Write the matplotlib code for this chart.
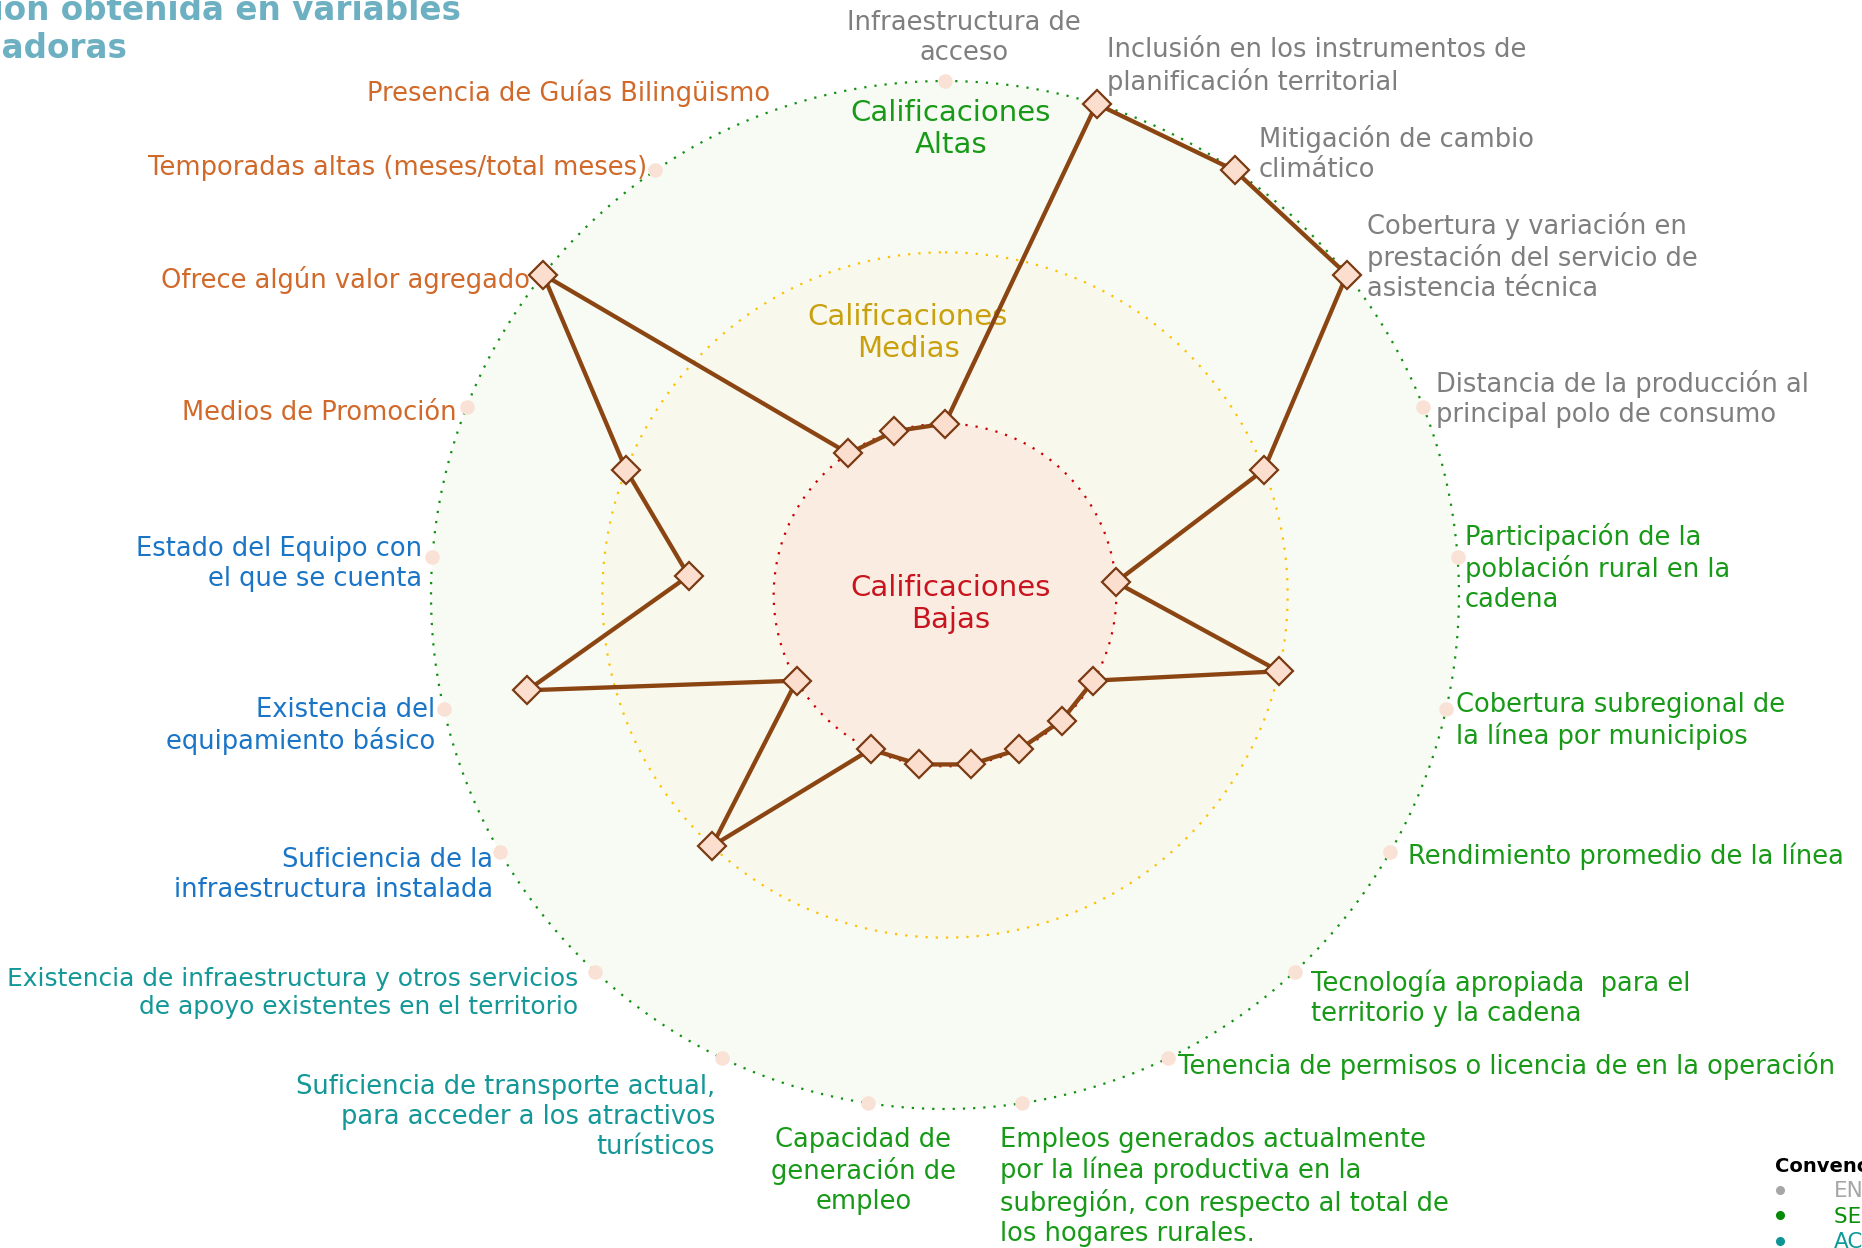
import numpy as np
import matplotlib
matplotlib.use("Agg")
import matplotlib.pyplot as plt
from matplotlib.lines import Line2D

plt.rcParams["font.family"] = ["DejaVu Sans"]

# ---------------- data ----------------
categories = [
    "Infraestructura de\nacceso",
    "Inclusión en los instrumentos de\nplanificación territorial",
    "Mitigación de cambio\nclimático",
    "Cobertura y variación en\nprestación del servicio de\nasistencia técnica",
    "Distancia de la producción al\nprincipal polo de consumo",
    "Participación de la\npoblación rural en la\ncadena",
    "Cobertura subregional de\nla línea por municipios",
    "Rendimiento promedio de la línea",
    "Tecnología apropiada  para el\nterritorio y la cadena",
    "Tenencia de permisos o licencia de en la operación",
    "Empleos generados actualmente\npor la línea productiva en la\nsubregión, con respecto al total de\nlos hogares rurales.",
    "Capacidad de\ngeneración de\nempleo",
    "Suficiencia de transporte actual,\npara acceder a los atractivos\nturísticos",
    "Existencia de infraestructura y otros servicios\nde apoyo existentes en el territorio",
    "Suficiencia de la\ninfraestructura instalada",
    "Existencia del\nequipamiento básico",
    "Estado del Equipo con\nel que se cuenta",
    "Medios de Promoción",
    "Ofrece algún valor agregado",
    "Temporadas altas (meses/total meses)",
    "Presencia de Guías Bilingüismo",
]
values = [1, 3, 3, 3, 2, 1, 2, 1, 1, 1, 1, 1, 1, 2, 1, 2.5, 1.5, 2, 3, 1, 1]
category_group = (["gray"] * 5 + ["green"] * 7 + ["teal"] * 2 +
                  ["blue"] * 3 + ["orange"] * 4)

zone_levels = [1, 2, 3]
zone_names = ["Calificaciones\nBajas", "Calificaciones\nMedias", "Calificaciones\nAltas"]

legend_title = "Convenciones"
legend_labels = ["ENTORNO", "SECTOR PRODUCTIVO", "ACCESIBILIDAD"]

title_line1 = "Calificación obtenida en variables"
title_line2 = "condicionadoras"

# ---------------- styles ----------------
group_colors = {"gray": "#7f7f7f", "green": "#189a18", "teal": "#139797",
                "blue": "#1a75c6", "orange": "#d0692a"}
zone_fill = ["#fbece2", "#f9f8ec", "#f7fbf3"]
zone_line = ["#cc0000", "#ffc000", "#119011"]
zone_text = ["#c8141e", "#c9a00e", "#189a18"]
legend_colors = ["#a6a6a6", "#0a8f0a", "#0e9a9a"]
legend_dot = ["#a6a6a6", "#078a07", "#0e9494"]

# label placement: (ha, dx, dy) offsets in pixels from the tick dot (dy down)
label_layout = [
    ("center", 19, -46), ("left", 10, -40), ("left", 24, -19), ("left", 20, -20),
    ("left", 13, -11), ("left", 7, 9), ("left", 10, 9), ("left", 18, 2),
    ("left", 16, 24), ("left", 10, 5), ("left", -22, 81), ("center", -5, 65),
    ("right", -7, 56), ("right", -17, 19), ("right", -7, 20), ("right", -9, 14),
    ("right", -10, 5), ("right", -10, 3), ("right", -13, 3), ("right", -8, -5),
    ("right", -23, -13),
]
label_dy_shift = 2.5
label_size = 18.5
label_size_override = {13: 17.9}
hidden_tick_dots = {20}

W, H = 1862, 1248
fig = plt.figure(figsize=(W / 100, H / 100), dpi=100)
fig.patch.set_facecolor("white")

# overlay axes in pixel coordinates (titles, zone names, legend)
ov = fig.add_axes([0, 0, 1, 1])
ov.set_xlim(0, W)
ov.set_ylim(H, 0)
ov.axis("off")
ov.set_zorder(0)

# polar chart
cx, cy, R = 945, 595, 514
ax = fig.add_axes([(cx - R) / W, (H - cy - R) / H, 2 * R / W, 2 * R / H],
                  projection="polar")
ax.set_zorder(1)
ax.patch.set_alpha(0)
ax.set_theta_zero_location("N")
ax.set_theta_direction(-1)
ax.set_ylim(0, 3)
ax.set_xticks([])
ax.set_yticks([])
ax.grid(False)
ax.spines["polar"].set_visible(False)

n = len(categories)
theta = np.arange(n) * 2 * np.pi / n
full = np.linspace(0, 2 * np.pi, 720)

prev = 0
for lvl, fc in zip(zone_levels, zone_fill):
    ax.fill_between(full, prev, lvl, color=fc, linewidth=0, zorder=0)
    prev = lvl
for lvl, lc in zip(zone_levels, zone_line):
    ax.plot(full, np.full_like(full, lvl), color=lc, linewidth=1.6,
            linestyle=(0, (1, 3.6)), zorder=1, clip_on=False)

# category tick dots
dot_idx = [i for i in range(n) if i not in hidden_tick_dots]
ax.scatter(theta[dot_idx], np.full(len(dot_idx), 3), s=110, color="#f9e2d5",
           zorder=2, clip_on=False, linewidths=0)

# zone names (above the fills, below the data line)
zone_pos = [(951, 604), (908, 333), (951, 129)]
for (x, y), name, col in zip(zone_pos, zone_names, zone_text):
    ax.text(x, y, name, transform=ov.transData, ha="center", va="center",
            fontsize=21, color=col, linespacing=1.2, zorder=2.5)

# data polygon
tc = np.append(theta, theta[0])
vc = np.append(values, values[0])
ax.plot(tc, vc, color="#8b4513", linewidth=3.1, zorder=3, clip_on=False)
ax.plot(theta, values, linestyle="none", marker="D", markersize=14.5,
        markerfacecolor="#fbdecd", markeredgecolor="#7a3a12",
        markeredgewidth=1.6, zorder=4, clip_on=False)

# category labels
for i, (lab, grp) in enumerate(zip(categories, category_group)):
    ha, dx, dy = label_layout[i]
    ax.annotate(lab, xy=(theta[i], 3), xycoords="data",
                xytext=(dx, -(dy + label_dy_shift)), textcoords="offset pixels",
                ha=ha, va="center", multialignment=ha,
                fontsize=label_size_override.get(i, label_size),
                color=group_colors[grp], linespacing=1.2,
                annotation_clip=False, zorder=5)

# title (clipped by the figure edges as in the reference)
ov.text(461, 10, title_line1, ha="right", va="center", fontsize=23.5,
        weight="bold", color="#6cb0c2")
ov.text(128, 49, title_line2, ha="right", va="center", fontsize=23.5,
        weight="bold", color="#6cb0c2")

# legend
handles = [Line2D([], [], linestyle="none", marker="o", markersize=5.5,
                  color=c) for c in legend_dot]
leg = ov.legend(handles, legend_labels, title=legend_title, loc="upper left",
                bbox_to_anchor=(1775 / W, 1 - 1157 / H),
                bbox_transform=fig.transFigure, frameon=False, fontsize=15.5,
                title_fontproperties={"weight": "bold", "size": 14},
                alignment="left", labelcolor=legend_colors,
                handlelength=0.42, handletextpad=2.3, borderpad=0,
                borderaxespad=0, labelspacing=0.25)

fig.savefig("out.png", dpi=100)
